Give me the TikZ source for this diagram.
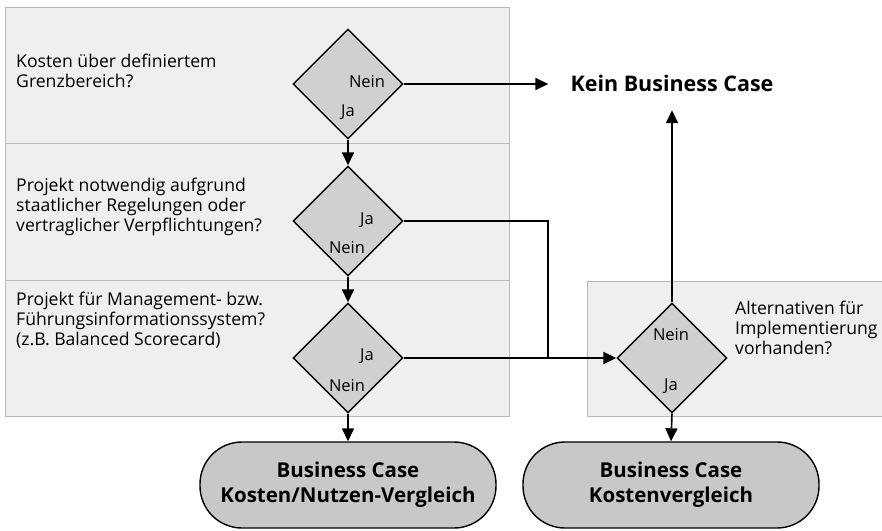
\documentclass[tikz,border=0pt]{standalone}
\usepackage{fontspec}
\setmainfont{Open Sans}
\usetikzlibrary{shapes.geometric,arrows.meta}
\definecolor{panelfill}{HTML}{EFEFEF}
\definecolor{paneldraw}{HTML}{B8B8B8}
\definecolor{shapefill}{HTML}{D0D0D0}
\definecolor{termfill}{HTML}{C8C8C8}
\tikzset{
  panel/.style={draw=paneldraw,fill=panelfill,line width=0.8pt},
  dec/.style={diamond,draw=black,fill=shapefill,line width=1.4pt,minimum width=110pt,minimum height=110pt,inner sep=0pt,aspect=1},
  term/.style={rectangle,rounded corners=42pt,draw=black,fill=termfill,line width=1.4pt,minimum width=296pt,minimum height=86pt,align=center,font=\fontsize{20.5}{25}\selectfont\bfseries},
  qtext/.style={anchor=west,align=left,inner sep=0pt,font=\fontsize{17.6}{20}\selectfont},
  lbl/.style={inner sep=0pt,font=\fontsize{16.5}{18}\selectfont},
  conn/.style={line width=1.6pt},
  arr/.style={conn,-{Triangle[length=13pt,width=12pt]}}
}
\begin{document}
\begin{tikzpicture}[x=1pt,y=-1pt]
\useasboundingbox (0,0) rectangle (882,530);
\fill[white] (0,0) rectangle (882,530);
% panels
\draw[panel] (5,7) rectangle (509,416);
\draw[paneldraw,line width=0.8pt] (5,143) -- (509,143);
\draw[paneldraw,line width=0.8pt] (5,280) -- (509,280);
\draw[panel] (587,281) rectangle (884,416);
% question texts
\node[qtext] (q1) at (16,71) {Kosten über definiertem\\Grenzbereich?};
\node[qtext] (q2) at (16,207) {Projekt notwendig aufgrund\\staatlicher Regelungen oder\\vertraglicher Verpflichtungen?};
\node[qtext] (q3) at (16,320) {Projekt für Management- bzw.\\Führungsinformationssystem?\\(z.B. Balanced Scorecard)};
\node[qtext] (q4) at (735,328) {Alternativen für\\Implementierung\\vorhanden?};
% decisions
\node[dec] (d1) at (348,84) {};
\node[dec] (d2) at (348,221) {};
\node[dec] (d3) at (348,358) {};
\node[dec] (d4) at (672,358) {};
% decision labels
\node[lbl] (d1n) at (367,82) {Nein};
\node[lbl] (d1j) at (348,112) {Ja};
\node[lbl] (d2j) at (367,220) {Ja};
\node[lbl] (d2n) at (347,248) {Nein};
\node[lbl] (d3j) at (367,356) {Ja};
\node[lbl] (d3n) at (347,386) {Nein};
\node[lbl] (d4n) at (671,335) {Nein};
\node[lbl] (d4j) at (671,386) {Ja};
% outcomes
\node[inner xsep=22pt,inner ysep=0pt,minimum height=54pt,font=\fontsize{21.5}{24}\selectfont\bfseries] (kbc) at (672,83) {Kein Business Case};
\node[term] (t1) at (348,485) {Business Case\\Kosten/Nutzen-Vergleich};
\node[term] (t2) at (671,485) {Business Case\\Kostenvergleich};
% connectors
\coordinate (j1) at (548,221);
\coordinate (j2) at (548,358);
\draw[arr] (d1.east) -- (d1.east -| kbc.west);
\draw[arr] (d1.south) -- (d2.north);
\draw[arr] (d2.south) -- (d3.north);
\draw[arr] (d3.south) -- (t1.north);
\draw[conn] (d2.east) -- (j1) -- (j2);
\draw[arr] (d3.east) -- (d4.west);
\draw[arr] (d4.south) -- (t2.north);
\draw[arr] (d4.north) -- (kbc.south);
\end{tikzpicture}
\end{document}
